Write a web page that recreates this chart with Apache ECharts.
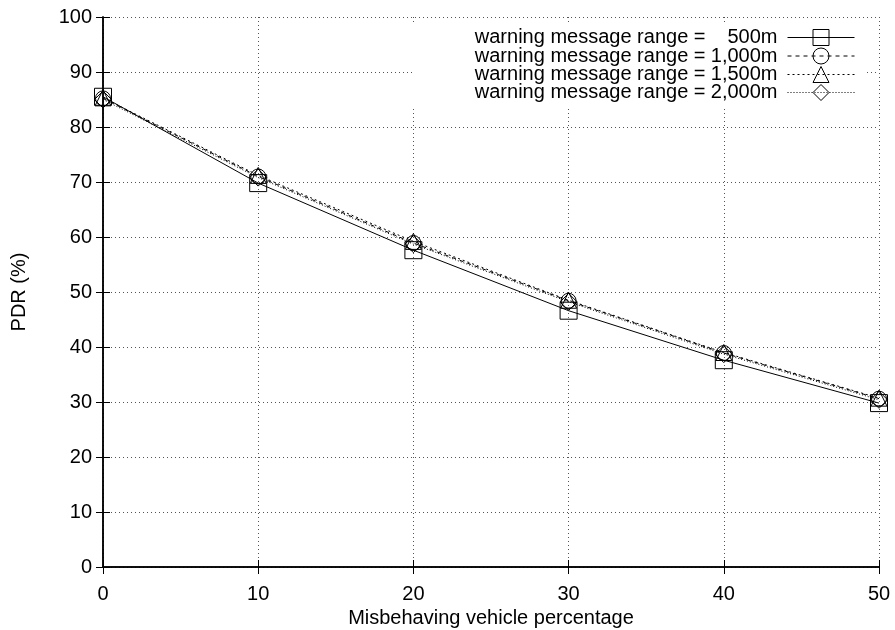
<!DOCTYPE html>
<html>
<head>
<meta charset="utf-8">
<script src="https://cdn.jsdelivr.net/npm/echarts@6/dist/echarts.min.js"></script>
<style>
  html, body { margin: 0; padding: 0; background: #fff; }
  #chart { width: 895px; height: 630px; }
</style>
</head>
<body>
<div id="chart"></div>
<script>
// Misbehaving vehicle percentage (x) vs packet delivery ratio (y)
const xValues = [0, 10, 20, 30, 40, 50];
const ranges = ['500m', '1,000m', '1,500m', '2,000m'];
const pdr500 = [85.5, 69.8, 57.6, 46.6, 37.6, 29.8];
const pdr1000 = [85.2, 71.0, 58.9, 48.4, 38.9, 30.6];
const pdr1500 = [85.3, 71.2, 59.2, 48.5, 39.0, 30.7];
const pdr2000 = [85.0, 70.8, 58.7, 48.2, 38.7, 30.4];
const yTicks = [0, 10, 20, 30, 40, 50, 60, 70, 80, 90, 100];

const FONT = '"Liberation Sans", Arial, Helvetica, sans-serif';
const seriesValues = [pdr500, pdr1000, pdr1500, pdr2000];
const symbols = ['rect', 'circle', 'triangle', 'diamond'];
const symbolSizes = [17, 15, 16, 17];
const dashes = ['solid', [4, 4], [2, 3], [1, 2]];
const names = ranges.map(r => 'warning message range = ' + r);

const series = seriesValues.map((vals, i) => ({
  name: names[i],
  type: 'line',
  data: xValues.map((x, k) => [x, vals[k]]),
  symbol: symbols[i],
  symbolSize: symbolSizes[i],
  showAllSymbol: true,
  itemStyle: { color: 'rgba(0,0,0,0)', borderColor: '#000', borderWidth: 1 },
  lineStyle: { color: '#000', width: 1, type: dashes[i] },
  emphasis: { disabled: true },
  animation: false,
  z: 3
}));

const legendTops = [27.5, 46, 64.5, 82.5];
const legends = names.map((n, i) => ({
  data: [n],
  orient: 'vertical',
  right: 40,
  top: legendTops[i],
  padding: 0,
  align: 'right',
  itemWidth: 67,
  itemHeight: 20,
  selectedMode: false,
  lineStyle: { width: 1, color: '#000', type: dashes[i] },
  itemStyle: { color: 'rgba(0,0,0,0)', borderColor: '#000', borderWidth: 1 },
  formatter: () => '{a|warning message range =}{b|' + ranges[i] + '}',
  textStyle: {
    color: '#000',
    fontFamily: FONT,
    fontSize: 20,
    lineHeight: 20,
    rich: {
      a: { fontFamily: FONT, fontSize: 20, color: '#000' },
      b: { fontFamily: FONT, fontSize: 20, color: '#000', width: 72, align: 'right', padding: [0, 5, 0, 0] }
    }
  }
}));

const tickStyle = { show: true, inside: true, length: 7, lineStyle: { color: '#000', width: 1 } };
const axisLine = { show: true, lineStyle: { color: '#000', width: 1.5 } };
const gridLine = { show: true, lineStyle: { color: '#555', width: 1, type: [1, 3] } };

const option = {
  backgroundColor: '#fff',
  animation: false,
  grid: { left: 103, right: 16, top: 17, bottom: 63, containLabel: false, outerBoundsMode: 'none' },
  legend: legends,
  graphic: [{
    type: 'rect',
    shape: { x: 412, y: 23, width: 452, height: 85 },
    style: { fill: '#fff' },
    z: 2
  }],
  xAxis: [{
    type: 'value',
    min: 0, max: 50, interval: 10,
    name: 'Misbehaving vehicle percentage',
    nameLocation: 'middle',
    nameGap: 36,
    nameTextStyle: { color: '#000', fontFamily: FONT, fontSize: 20 },
    axisLine: axisLine,
    axisTick: tickStyle,
    axisLabel: { color: '#000', fontFamily: FONT, fontSize: 20, margin: 17 },
    splitLine: gridLine
  }, {
    type: 'value',
    position: 'top',
    min: 0, max: 50, interval: 10,
    axisLine: axisLine,
    axisTick: tickStyle,
    axisLabel: { show: false },
    splitLine: { show: false }
  }],
  yAxis: [{
    type: 'value',
    min: yTicks[0], max: yTicks[yTicks.length - 1], interval: 10,
    name: 'PDR (%)',
    nameLocation: 'middle',
    nameGap: 74,
    nameTextStyle: { color: '#000', fontFamily: FONT, fontSize: 20 },
    axisLine: axisLine,
    axisTick: tickStyle,
    axisLabel: { color: '#000', fontFamily: FONT, fontSize: 20, margin: 11 },
    splitLine: gridLine
  }, {
    type: 'value',
    position: 'right',
    min: yTicks[0], max: yTicks[yTicks.length - 1], interval: 10,
    axisLine: axisLine,
    axisTick: tickStyle,
    axisLabel: { show: false },
    splitLine: { show: false }
  }],
  series: series
};

const chart = echarts.init(document.getElementById('chart'), null, { renderer: 'canvas' });
chart.setOption(option);
</script>
</body>
</html>
